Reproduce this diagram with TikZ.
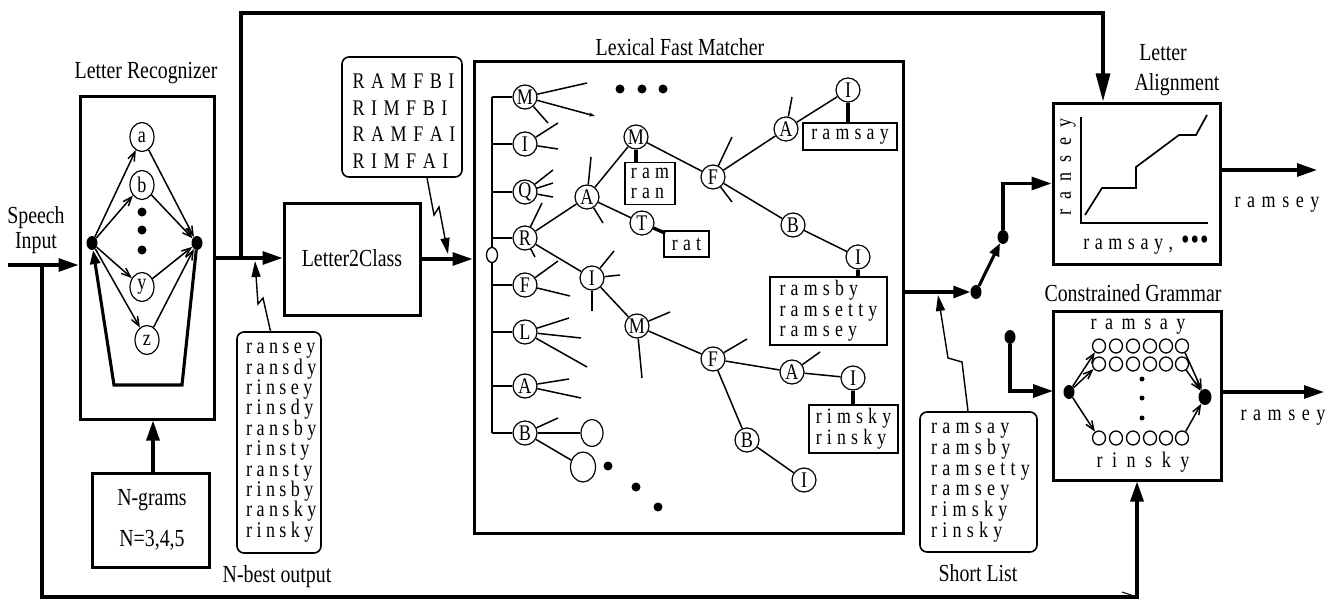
\documentclass[tikz,border=0pt]{standalone}
\usepackage{fontspec}
\setmainfont{Liberation Serif}[FakeStretch=0.81]
\usetikzlibrary{arrows.meta,shapes.geometric,calc}
\def\spc#1#2{\def\spk{\kern#1}\spcfirst#2\relax}
\def\spcfirst#1{#1\spcloop}
\def\spcloop#1{\ifx#1\relax\else\spk#1\expandafter\spcloop\fi}
\newcommand\ws[1]{\spc{5.2pt}{#1}}
\newcommand\wn[1]{\spc{4.4pt}{#1}}
\newcommand\wc[1]{\spc{6.5pt}{#1}}
\newcommand\bigbul{{\fontsize{30}{30}\selectfont•}}
\begin{document}
\begin{tikzpicture}[x=1pt,y=-1pt,
  lbl/.style={font=\fontsize{24.5}{25}\selectfont, inner sep=0pt},
  bx/.style={draw, line width=3pt, inner sep=0pt},
  tbox/.style={draw, line width=1.6pt, inner sep=0pt, font=\fontsize{22}{20.6}\selectfont, align=left},
  rbox/.style={draw, line width=1.6pt, rounded corners=7pt, inner sep=0pt},
  tn/.style={circle, draw, line width=1.2pt, minimum size=24pt, inner sep=0pt, fill=white, font=\fontsize{22.3}{22}\selectfont},
  lrn/.style={ellipse, draw, line width=1.2pt, minimum width=24pt, minimum height=29pt, inner sep=0pt, fill=white, font=\fontsize{22.3}{22}\selectfont},
  dotn/.style={ellipse, fill, minimum width=11pt, minimum height=14pt, inner sep=0pt},
  sdot/.style={circle, fill, minimum size=9pt, inner sep=0pt},
  cgc/.style={ellipse, draw, line width=1.3pt, minimum width=13pt, minimum height=14pt, inner sep=0pt},
  wl/.style={font=\fontsize{22.3}{20.4}\selectfont, inner sep=0pt},
  mainl/.style={line width=3.1pt},
  bigarrow/.style={-{Triangle[length=20pt,width=13pt]}},
  thinl/.style={line width=1.5pt},
  barb/.style={-{Straight Barb[length=9pt,width=7pt]}},
  bolt/.style={line width=1.4pt, -{Triangle[length=16pt,width=9pt]}},
  link/.style={line width=3.4pt}
]
\useasboundingbox (0,0) rectangle (1334,602);

% ---------------- Speech input ----------------
\node[lbl, align=center] (spl) at (36,230) {Speech\\Input};

% ---------------- Letter Recognizer ----------------
\node[lbl] (lrl) at (146,73) {Letter Recognizer};
\node[bx, minimum width=134pt, minimum height=322pt] (LR) at (147,258) {};
\node[dotn] (Ld) at (92,243) {};
\node[dotn] (Rd) at (197,243) {};
\node[lrn] (la) at (142,137) {a};
\node[lrn] (lb) at (142,185) {b};
\node[lrn] (ly) at (142,287) {y};
\node[lrn] (lz) at (147,340) {z};
\node[sdot] (ld1) at (142,212) {};
\node[sdot] (ld2) at (142,230) {};
\node[sdot] (ld3) at (142,250) {};
\foreach \n in {la,lb,ly,lz} {
  \draw[thinl,barb] (Ld) -- (\n);
  \draw[thinl,barb] (\n) -- (Rd);
}
\coordinate (t1) at (182,385);
\coordinate (t2) at (114,385);
\draw[mainl, -{Triangle[length=14pt,width=10pt]}] (Rd) -- (t1) -- (t2) -- (Ld);

% ---------------- N-grams ----------------
\node[bx, minimum width=117pt, minimum height=94pt] (ng) at (150.5,520) {};
\node[lbl] (ngt1) at (152,500) {N-grams};
\node[lbl] (ngt2) at (152,540) {N=3,4,5};
\draw[mainl,bigarrow] (ng.north -| 153,0) -- (LR.south -| 153,0);

% speech input arrow and feedback
\coordinate (sia) at (8,265);
\coordinate (fb0) at (42,265);
\coordinate (fb1) at (42,597);
\coordinate (fb2) at (1137,597);
\draw[mainl,bigarrow] (sia) -- (sia -| LR.west);

% ---------------- Letter2Class ----------------
\node[bx, minimum width=136pt, minimum height=112pt] (L2C) at (352,259) {};
\node[lbl] (l2ct) at (352,258) {Letter2Class};
\coordinate (br) at (241,258);
\coordinate (tl) at (241,13);
\coordinate (tr) at (1103,13);
\draw[mainl,bigarrow] (LR.east) -- (LR.east -| L2C.west);

% N-best output
\node[rbox, minimum width=84pt, minimum height=221pt] (nb) at (279,442.5) {};
\node[wl, align=left, anchor=north west] (nbt) at (246,343) {\wn{ransey}\\\wn{ransdy}\\\wn{rinsey}\\\wn{rinsdy}\\\wn{ransby}\\\wn{rinsty}\\\wn{ransty}\\\wn{rinsby}\\\wn{ransky}\\\wn{rinsky}};
\node[lbl] (nbl) at (277,577) {N-best output};
\coordinate (z1a) at (263,298);
\coordinate (z1b) at (258,304);
\coordinate (z1c) at (255,261);
\draw[bolt] ($(nb.north)+(-8.5,0)$) -- (z1a) -- (z1b) -- (z1c);

% RAMFBI box
\node[rbox, minimum width=120pt, minimum height=120pt] (rb) at (402,117) {};
\node[font=\fontsize{22.3}{26.7}\selectfont, align=left, inner sep=0pt] (rbt) at (404,121) {\wc{RAMFBI}\\\wc{RIMFBI}\\\wc{RAMFAI}\\\wc{RIMFAI}};
\coordinate (z2a) at (434,215);
\coordinate (z2b) at (439,207);
\coordinate (z2c) at (448,254);
\draw[bolt] ($(rb.south)+(25,0)$) -- (z2a) -- (z2b) -- (z2c);

% ---------------- Lexical Fast Matcher ----------------
\node[lbl] (lfml) at (680,47) {Lexical Fast Matcher};
\node[bx, minimum width=429pt, minimum height=471pt] (LFM) at (688.5,297.5) {};
\draw[mainl,bigarrow] (L2C.east) -- (L2C.east -| LFM.west);

\coordinate (vt) at (492,97);
\coordinate (vb) at (492,433);
\draw[thinl] (vt) -- (vb);
\node[ellipse, draw, fill=white, line width=1.3pt, minimum width=11pt, minimum height=15pt, inner sep=0pt] (rc) at (492,255) {};

\node[tn] (rM) at (525,97) {M};
\node[tn] (rI) at (525,144) {I};
\node[tn] (rQ) at (525,192) {Q};
\node[tn] (rR) at (525,238) {R};
\node[tn] (rF) at (525,285) {F};
\node[tn] (rL) at (525,332) {L};
\node[tn] (rA) at (525,386) {A};
\node[tn] (rB) at (525,433) {B};
\foreach \n in {rM,rI,rQ,rR,rF,rL,rA,rB} \draw[thinl] (\n -| vt) -- (\n);

\node[tn] (nA) at (587,197) {A};
\node[tn] (nM) at (636,137) {M};
\node[tn] (nT) at (642,223) {T};
\node[tn] (nI) at (592,278) {I};
\node[tn] (nM2) at (637,326) {M};
\node[tn] (nF) at (713,177) {F};
\node[tn] (nF2) at (713,359) {F};
\node[tn] (nA3) at (786,129) {A};
\node[tn] (nI4) at (848,90) {I};
\node[tn] (nB) at (793,225) {B};
\node[tn] (nI5) at (858,257) {I};
\node[tn] (nA2) at (792,372) {A};
\node[tn] (nI2) at (853,378) {I};
\node[tn] (nB2) at (747,440) {B};
\node[tn] (nI3) at (804,480) {I};
\node[ellipse, draw, line width=1.2pt, minimum width=22pt, minimum height=27pt, inner sep=0pt] (bC1) at (592,433) {};
\node[ellipse, draw, line width=1.2pt, minimum width=25pt, minimum height=30pt, inner sep=0pt] (bC2) at (583,467) {};

\foreach \a/\b in {rR/nA,nA/nM,nA/nT,rR/nI,nI/nM2,nM2/nF2,nM/nF,nF/nA3,nA3/nI4,nF/nB,nB/nI5,nF2/nA2,nA2/nI2,nF2/nB2,nB2/nI3,rB/bC1,rB/bC2}
  \draw[thinl] (\a) -- (\b);

% spikes
\draw[thinl] (rM) -- ++(62,-14);
\draw[thinl,-{Stealth[length=6pt,width=4pt]}] (rM) -- ++(70,19);
\draw[thinl] (rM) -- ++(23,26);
\draw[thinl] (rI) -- ++(33,-21);
\draw[thinl] (rI) -- ++(33,5);
\draw[thinl] (rQ) -- ++(28,-22);
\draw[thinl] (rQ) -- ++(28,-9);
\draw[thinl] (rQ) -- ++(28,5);
\draw[thinl] (rR) -- ++(17,-35);
\draw[thinl] (rR) -- ++(10,19);
\draw[thinl] (rF) -- ++(33,-24);
\draw[thinl] (rF) -- ++(45,11);
\draw[thinl] (rL) -- ++(44,-14);
\draw[thinl] (rL) -- ++(56,6);
\draw[thinl] (rL) -- ++(62,35);
\draw[thinl] (rA) -- ++(44,-7);
\draw[thinl] (rA) -- ++(56,12);
\draw[thinl] (rB) -- ++(33,-15);
\draw[thinl] (nA) -- ++(4,-40);
\draw[thinl] (nA) -- ++(16,26);
\draw[thinl] (nI) -- ++(22,-27);
\draw[thinl] (nI) -- ++(28,-3);
\draw[thinl] (nI) -- ++(0,33);
\draw[thinl] (nM2) -- ++(33,-14);
\draw[thinl] (nM2) -- ++(5,52);
\draw[thinl] (nF2) -- ++(34,-20);
\draw[thinl] (nA2) -- ++(28,-20);
\draw[thinl] (nF) -- ++(19,-40);
\draw[thinl] (nF) -- ++(19,25);
\draw[thinl] (nA3) -- ++(6,-32);

% dots
\node[sdot] (td1) at (620,89) {};
\node[sdot] (td2) at (642,89) {};
\node[sdot] (td3) at (663,89) {};
\node[sdot] (bd1) at (608,466) {};
\node[sdot] (bd2) at (636,487) {};
\node[sdot] (bd3) at (658,507) {};

% word boxes
\node[tbox, minimum width=50pt, minimum height=42pt] (bram) at (650,183.5) {\ws{ram}\\\ws{ran}};
\node[tbox, minimum width=45pt, minimum height=26pt] (brat) at (686.5,244) {\ws{rat}};
\node[tbox, minimum width=94pt, minimum height=27pt] (bsay) at (850,136.5) {\ws{ramsay}};
\node[tbox, minimum width=117pt, minimum height=68pt] (bsby) at (828.5,311) {\ws{ramsby}\\\ws{ramsetty}\\\ws{ramsey}};
\node[tbox, minimum width=89pt, minimum height=48pt] (bsky) at (853.5,429) {\ws{rimsky}\\\ws{rinsky}};
\draw[link] (nM.south) -- (nM.south |- bram.north);
\draw[link] (nT) -- ($(brat.north west)+(2,3)$);
\draw[link] (nI4.south) -- (nI4.south |- bsay.north);
\draw[link] (nI5.south) -- (nI5.south |- bsby.north);
\draw[link] (nI2.south) -- (nI2.south |- bsky.north);

% ---------------- switch ----------------
\node[dotn] (sw1) at (976,292) {};
\node[dotn] (sw2) at (1003,237) {};
\node[dotn] (sw3) at (1010,337) {};
\draw[mainl,-{Triangle[length=17pt,width=12pt]}] (LFM.east |- sw1) -- (sw1);
\draw[mainl,-{Triangle[length=13pt,width=10pt]}] (sw1) -- (sw2);

% Short List
\node[rbox, minimum width=117pt, minimum height=140pt] (sl) at (978.5,482) {};
\node[wl, align=left, anchor=north west, font=\fontsize{22.3}{20.2}\selectfont] (slt) at (931,423) {\ws{ramsay}\\\ws{ramsby}\\\ws{ramsetty}\\\ws{ramsey}\\\ws{rimsky}\\\ws{rinsky}};
\node[lbl] (sll) at (978,573) {Short List};
\coordinate (z3a) at (962,362);
\coordinate (z3b) at (948,358);
\coordinate (z3c) at (938,295);
\draw[bolt] ($(sl.north)+(-10.5,0)$) -- (z3a) -- (z3b) -- (z3c);

% ---------------- Letter Alignment ----------------
\node[lbl] (lal1) at (1163,53) {Letter};
\node[lbl] (lal2) at (1177,85) {Alignment};
\node[bx, minimum width=167pt, minimum height=161pt] (LA) at (1136.5,183.5) {};
\coordinate (ax0) at (1081,117);
\coordinate (ax1) at (1081,223);
\coordinate (ax2) at (1208,223);
\draw[line width=1.7pt] (ax0) -- (ax1) -- (ax2);
\draw[line width=1.7pt] (1085,215) -- (1102,188) -- (1136,188) -- (1136,167) -- (1179,135) -- (1196,135) -- (1207,115);
\node[wl, rotate=90] (lav) at (1068,167) {\spc{10pt}{ransey}};
\node[wl] (lah) at (1146,245) {\spc{5.5pt}{ramsay,}\kern8pt\bigbul\kern1pt\bigbul\kern1pt\bigbul};
\draw[mainl,-{Triangle[length=28pt,width=14pt]}] (br) -- (tl) -- (tr) -- (tr |- LA.north);
\draw[mainl,bigarrow] (sw2) -- (sw2 |- LA.west) -- (LA.west);
\coordinate (lao) at (1317,170);
\draw[mainl,bigarrow] (LA.east |- lao) -- (lao);
\node[wl] (lout) at (1277,205) {\spc{6.5pt}{ramsey}};

% ---------------- Constrained Grammar ----------------
\node[lbl] (cgl) at (1133,293) {Constrained Grammar};
\node[bx, minimum width=168pt, minimum height=169pt] (CG) at (1137,395.5) {};
\node[wl] (cgt1) at (1138,327) {\spc{8.5pt}{ramsay}};
\node[wl] (cgt2) at (1143,462) {\spc{9.5pt}{rinsky}};
\foreach \r/\yy in {1/346,2/364,3/438}
  \foreach \c/\xx in {1/1099,2/1116,3/1133,4/1150,5/1166,6/1182}
    \node[cgc] (c\r\c) at (\xx,\yy) {};
\node[circle, fill, minimum size=5pt, inner sep=0pt] (cd1) at (1142,379) {};
\node[circle, fill, minimum size=5pt, inner sep=0pt] (cd2) at (1142,398) {};
\node[circle, fill, minimum size=5pt, inner sep=0pt] (cd3) at (1142,418) {};
\node[dotn] (cgL) at (1069,392) {};
\node[ellipse, fill, minimum width=13pt, minimum height=16pt, inner sep=0pt] (cgR) at (1205,397) {};
\foreach \n in {c11,c21,c31} \draw[thinl,barb] (cgL) -- (\n);
\foreach \n in {c16,c26,c36} \draw[thinl,barb] (\n) -- (cgR);
\coordinate (cgin) at (1053,391);
\draw[mainl,bigarrow] (sw3) -- (sw3 |- cgin) -- (cgin);
\coordinate (cgo) at (1324,392);
\draw[mainl,bigarrow] (CG.east |- cgo) -- (cgo);
\node[wl] (cgout) at (1283,418) {\spc{6.5pt}{ramsey}};

% feedback line
\draw[mainl,bigarrow] (fb0) -- (fb1) -- (fb2) -- (fb2 |- CG.south);
\coordinate (tk) at (1122,592);
\draw[line width=1pt] (tk) -- (fb2);
\end{tikzpicture}
\end{document}
